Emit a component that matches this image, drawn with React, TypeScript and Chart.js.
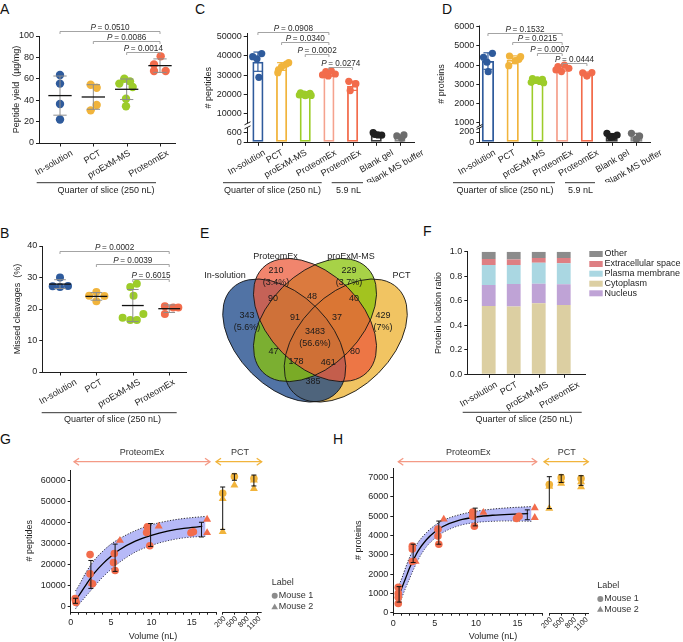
import React, { useEffect, useRef } from 'react';
import { Chart, registerables, LinearScale } from 'chart.js';

Chart.register(...registerables);

// ---------- broken linear scale (piecewise mapping with a gap) ----------
class BrokenLinear extends LinearScale {
  static id = 'brokenLinear';
  _geom() {
    const b: any = (this as any).options.brk;
    const horiz = this.isHorizontal();
    return { b, start: horiz ? this.left : this.bottom, len: horiz ? this.width : this.height, dir: horiz ? 1 : -1 };
  }
  getPixelForValue(value: number) {
    if (value === null || value === undefined || isNaN(value)) return NaN;
    const { b, start, len, dir } = this._geom();
    const hiLen = len - b.lowPx - b.gapPx;
    let d;
    if (value <= b.lowMax) d = ((value - this.min) / (b.lowMax - this.min)) * b.lowPx;
    else if (value >= b.highMin) d = b.lowPx + b.gapPx + ((value - b.highMin) / (this.max - b.highMin)) * hiLen;
    else d = b.lowPx + ((value - b.lowMax) / (b.highMin - b.lowMax)) * b.gapPx;
    return start + dir * d;
  }
  getValueForPixel(pixel: number) {
    const { b, start, len, dir } = this._geom();
    const d = (pixel - start) * dir;
    const hiLen = len - b.lowPx - b.gapPx;
    if (d <= b.lowPx) return this.min + (d / b.lowPx) * (b.lowMax - this.min);
    if (d >= b.lowPx + b.gapPx) return b.highMin + ((d - b.lowPx - b.gapPx) / hiLen) * (this.max - b.highMin);
    return b.lowMax + ((d - b.lowPx) / b.gapPx) * (b.highMin - b.lowMax);
  }
}
Chart.register(BrokenLinear as any);

// ---------- style ----------
const FF = "'Liberation Sans', Arial, Helvetica, sans-serif";
const FS = 9;
const LH = FS * 1.2;
const INK = '#1e1e1e';
const GREYLINE = '#9a9a9a';
const BLUE = '#2f5b9c';
const YELLOW = '#f1b43c';
const GREEN = '#9dcc29';
const SALMON = '#f26c4c';
const SALMON_LIGHT = '#f5a28e';
Chart.defaults.font.family = FF;
Chart.defaults.font.size = FS;
Chart.defaults.color = INK;

// ---------- data ----------
const CATS4 = ['In-solution', 'PCT', 'proExM-MS', 'ProteomEx'];
const CATS7 = ['In-solution', 'PCT', 'proExM-MS', 'ProteomEx', 'ProteomEx', 'Blank gel', 'Blank MS buffer'];
const COLORS4 = [BLUE, YELLOW, GREEN, SALMON];

// A: peptide yield
const A_YIELD = [
  [63.5, 55.5, 36.4, 22.0],
  [54.5, 51.7, 35.5, 30.5],
  [60.0, 57.6, 55.5, 52.3, 41.4, 34.3],
  [81.0, 73.5, 67.3, 67.3],
];
const A_JITTER = [
  [0, 0, 0, 0],
  [-0.08, 0.1, 0.1, -0.08],
  [-0.07, 0.1, -0.22, 0.18, -0.02, -0.02],
  [0.02, -0.18, -0.18, 0.17],
];
const A_MEAN = [44.3, 43.0, 50.2, 72.3];
const A_SD = [18.3, 11.5, 9.6, 6.3];
const A_YTICKS = [0, 20, 40, 60, 80, 100];
const A_PAIRS = [[0, 3], [1, 3], [2, 3]];
const A_PLEVEL = [105, 95.6, 85.3];
const A_PVALUES = ['0.0510', '0.0086', '0.0014'];

// B: missed cleavages
const B_MISSED = [
  [30.0, 27.2, 27.0, 27.3],
  [25.4, 24.2, 24.1, 22.5],
  [28.0, 27.0, 24.2, 18.4, 17.2, 16.5, 16.5],
  [20.9, 20.5, 20.5, 18.4],
];
const B_JITTER = [
  [0, -0.2, 0, 0.22],
  [0, -0.2, 0.22, 0],
  [0.11, -0.07, 0.02, 0.29, -0.28, -0.07, 0.11],
  [-0.12, 0.11, 0.25, -0.12],
];
const B_MEAN = [27.9, 24.0, 21.1, 20.1];
const B_SD = [1.4, 1.2, 5.1, 1.2];
const B_YTICKS = [0, 10, 20, 30, 40];
const B_PAIRS = [[0, 3], [1, 3], [2, 3]];
const B_PLEVEL = [38.5, 34.3, 29.4];
const B_PVALUES = ['0.0002', '0.0039', '0.6015'];

// C: # peptides
const C_PEPTIDES = [
  [39600, 41200, 38500, 28900],
  [36500, 35800, 34400, 32700, 31300],
  [20800, 20500, 20200, 19900, 19700, 19500, 19300],
  [31800, 32300, 30600, 29600, 30100],
  [26800, 25600, 22000],
  [576, 440, 430, 480],
  [380, 440, 250],
];
const C_JITTER = [
  [-0.22, 0.16, -0.04, 0.04],
  [0.3, 0.2, 0.0, -0.13, -0.16],
  [-0.2, 0.2, -0.05, 0.1, -0.25, 0.25, 0.0],
  [-0.13, 0.1, 0.27, -0.03, -0.27],
  [-0.16, 0.14, -0.1],
  [-0.13, 0.07, 0.23, -0.07],
  [-0.13, 0.17, 0.07],
];
const C_MEAN = [37000, 34500, 19900, 30450, 24500, 480, 340];
const C_SD = [5000, 2000, 550, 1000, 2400, 70, 90];
const C_YTICKS = [0, 600, 10000, 20000, 30000, 40000, 50000];
const C_PAIRS = [[0, 3], [1, 3], [2, 3], [3, 4]];
const C_PLEVEL = [52270, 47080, 41000, 34400];
const C_PVALUES = ['0.0908', '0.0340', '0.0002', '0.0274'];

// D: # proteins
const D_PROTEINS = [
  [4406, 4614, 4150, 3656],
  [4474, 4300, 4230, 4437, 3969],
  [3300, 3260, 3200, 3150, 3100, 3080, 3230],
  [3920, 4000, 3830, 3660, 3750],
  [3600, 3610, 3430],
  [175, 110, 142, 97],
  [175, 122, 60],
];
const D_JITTER = [
  [-0.18, 0.18, -0.04, 0.01],
  [-0.13, 0.25, 0.1, 0.32, -0.16],
  [-0.2, 0.2, -0.05, 0.1, -0.25, 0.25, 0.0],
  [-0.17, 0.09, 0.27, -0.03, -0.25],
  [-0.17, 0.2, 0.0],
  [-0.19, 0.08, 0.22, -0.05],
  [-0.2, 0.13, 0.0],
];
const D_MEAN = [4210, 4280, 3190, 3830, 3540, 135, 120];
const D_SD = [430, 200, 80, 140, 100, 35, 55];
const D_YTICKS = [0, 200, 1000, 2000, 3000, 4000, 5000, 6000];
const D_PAIRS = [[0, 3], [1, 3], [2, 3], [3, 4]];
const D_PLEVEL = [5687, 5187, 4614, 4125];
const D_PVALUES = ['0.1532', '0.0215', '0.0007', '0.0444'];

const BAR_COLORS7 = [BLUE, YELLOW, GREEN, SALMON_LIGHT, SALMON, '#3a3a3a', '#8a8a8a'];
const DOT_COLORS7 = [BLUE, YELLOW, GREEN, SALMON, SALMON, '#1f1f1f', '#6d6d6d'];

// E: Venn
const VENN_SETS = ['In-solution', 'ProteomEx', 'proExM-MS', 'PCT'];
const VENN_COUNTS = [343, 210, 229, 429, 90, 48, 40, 91, 37, 3483, 47, 80, 178, 461, 385];
const VENN_PCT: Record<number, string> = { 0: '(5.6%)', 1: '(3.4%)', 2: '(3.7%)', 3: '(7%)', 9: '(56.6%)' };
const VENN_FILL = ['rgba(20,66,134,0.74)', 'rgba(236,92,60,0.75)', 'rgba(138,195,10,0.75)', 'rgba(236,176,45,0.75)'];

// F: protein location ratio
const F_SERIES = ['Cytoplasm', 'Nucleus', 'Plasma membrane', 'Extracellular space', 'Other'];
const F_VALUES = [
  [0.557, 0.552, 0.579, 0.565],
  [0.171, 0.184, 0.160, 0.169],
  [0.163, 0.155, 0.171, 0.171],
  [0.049, 0.046, 0.038, 0.043],
  [0.060, 0.063, 0.052, 0.052],
];
const F_COLORS = ['#dccfa2', '#bfa3d6', '#aad7e2', '#de7f83', '#8c8c8c'];
const F_LEGEND_ORDER = [4, 3, 2, 0, 1];
const F_YTICKS = [0, 0.2, 0.4, 0.6, 0.8, 1.0];

// G: # peptides vs volume
const G_PE_M1 = { x: [0.55, 0.6, 0.65, 2.4, 2.4, 2.7, 5.4, 5.3, 5.5, 9.5, 9.4, 9.8, 14.9, 15.2], y: [3900, 2800, 2000, 24800, 15600, 10900, 25300, 21000, 17200, 38000, 35300, 29000, 35200, 35700] };
const G_PE_M2 = { x: [0.7, 2.6, 6.1, 10.9, 16.9, 16.9], y: [3000, 11200, 31500, 38300, 41600, 35200] };
const G_PCT_M1 = { x: [200, 500, 1000], y: [54000, 62000, 61000] };
const G_PCT_M2 = { x: [200, 200, 500, 1000, 1000], y: [51400, 35700, 57900, 60300, 56200] };
const G_FIT_X = [0.6, 1, 2, 3, 4, 5, 6, 8, 10, 12, 14, 16.3];
const G_FIT_Y = [3000, 5200, 11000, 16300, 20500, 24000, 27000, 31200, 34000, 36000, 37300, 38200];
const G_BAND_X = [0.6, 1, 2, 3, 4, 5, 6, 8, 10, 12, 14, 16.7];
const G_BAND_HI = [7500, 10000, 17000, 22500, 26500, 29800, 32300, 36200, 39000, 40800, 42000, 43000];
const G_BAND_LO = [-1000, 1000, 5500, 10000, 14200, 17800, 21000, 26000, 29200, 31400, 32800, 33600];
const G_ERR_X = [0.6, 2.5, 5.5, 9.9, 16.2, 200, 500, 1000];
const G_ERR_LO = [1600, 8700, 16800, 28700, 33200, 36800, 60200, 57500];
const G_ERR_HI = [4000, 22000, 29800, 39600, 40200, 57000, 63300, 62700];
const G_YTICKS = [0, 10000, 20000, 30000, 40000, 50000, 60000];

// H: # proteins vs volume
const H_PE_M1 = { x: [0.6, 0.6, 0.6, 0.6, 2.3, 2.3, 2.3, 5.4, 5.4, 5.5, 9.6, 9.6, 9.8, 14.9, 15.2], y: [1320, 1000, 800, 480, 3450, 3300, 2650, 4330, 3970, 3550, 5220, 5000, 4480, 4880, 5000] };
const H_PE_M2 = { x: [2.7, 6.1, 10.9, 17.1, 17.1], y: [2650, 4840, 5190, 5430, 4930] };
const H_PCT_M1 = { x: [200, 500, 1000], y: [6640, 7000, 6950] };
const H_PCT_M2 = { x: [200, 200, 500, 500, 1000, 1000], y: [6550, 5400, 6860, 6700, 6780, 6520] };
const H_FIT_X = [0.7, 1, 1.5, 2, 2.5, 3, 4, 5, 6, 8, 10, 12, 14, 16.3];
const H_FIT_Y = [900, 1250, 1800, 2350, 2800, 3200, 3780, 4180, 4470, 4800, 4960, 5050, 5100, 5130];
const H_BAND_X = [0.7, 1, 1.5, 2, 2.5, 3, 4, 5, 6, 8, 10, 12, 14, 16.7];
const H_BAND_HI = [1450, 1750, 2350, 2900, 3300, 3650, 4150, 4520, 4780, 5080, 5260, 5370, 5440, 5500];
const H_BAND_LO = [350, 750, 1300, 1800, 2300, 2750, 3420, 3850, 4160, 4520, 4680, 4740, 4760, 4740];
const H_ERR_X = [0.7, 2.4, 5.5, 9.9, 16.2, 200, 500, 1000];
const H_ERR_LO = [550, 2600, 3550, 4500, 4820, 5400, 6750, 6600];
const H_ERR_HI = [1350, 3550, 4750, 5420, 5330, 7050, 7150, 7100];
const H_YTICKS = [0, 1000, 2000, 3000, 4000, 5000, 6000, 7000];

const VOL_LOW_LABELS = [0, 5, 10, 15];
const VOL_HIGH_LABELS = [200, 500, 800, 1100];

// ---------- layout (page coordinates) ----------
const BOX_A = { cl: 0, ct: 0, cw: 215, ch: 200, x0: 39, y0: 36, x1: 175, y1: 143, yW: 30, xH: 40, tx: 17 };
const BOX_B = { cl: 0, ct: 225, cw: 215, ch: 200, x0: 42.3, y0: 246, x1: 186.7, y1: 372, yW: 30, xH: 40, tx: 17 };
const BOX_C = { cl: 200, ct: 0, cw: 230, ch: 200, x0: 246.7, y0: 33, x1: 420, y1: 142.3, yW: 44, xH: 40, tx: 208 };
const BOX_D = { cl: 430, ct: 0, cw: 253, ch: 200, x0: 479.3, y0: 25.5, x1: 650, y1: 142.3, yW: 44, xH: 40, tx: 442 };
const BOX_E = { cl: 200, ct: 225, cw: 230, ch: 215, x0: 212.5, y0: 231.9, x1: 417.5, y1: 436.9, yW: 0, xH: 0, tx: 0 };
const BOX_F = { cl: 425, ct: 225, cw: 258, ch: 200, x0: 467.3, y0: 251.7, x1: 585, y1: 374.3, yW: 36, xH: 40, tx: 438.3 };
const BOX_G = { cl: 0, ct: 440, cw: 340, ch: 202, x0: 70.7, y0: 470, x1: 261.7, y1: 611.7, yW: 50, xH: 24, tx: 30 };
const BOX_H = { cl: 340, ct: 440, cw: 343, ch: 202, x0: 393.3, y0: 468, x1: 589, y1: 612.7, yW: 45, xH: 24, tx: 358.3 };

// horizontal shift (px) of each rotated category label's end from its tick
const A_LABEL_SHIFT = [12, 7, 3, 8];
const B_LABEL_SHIFT = [16, 5, 7, 5];
const C_LABEL_SHIFT = [7, 1, 1, 7, 8, 17, 24];
const D_LABEL_SHIFT = [7, 2, 7, 10, 11, 17, 25];
const F_LABEL_SHIFT = [8, 3, 9, 15];

const padFor = (b: any) => ({ left: b.x0 - b.cl - b.yW, top: b.y0 - b.ct, right: b.cl + b.cw - b.x1, bottom: b.ct + b.ch - b.y1 - b.xH });
const titlePad = (b: any) => Math.max(0, b.tx - (b.x0 - b.yW) - LH / 2);

// ---------- drawing helpers ----------
function txt(ctx: any, s: string, x: number, y: number, o: any = {}) {
  ctx.save();
  ctx.font = `${o.italic ? 'italic ' : ''}${o.size || FS}px ${FF}`;
  ctx.fillStyle = o.color || INK;
  ctx.textAlign = o.align || 'center';
  ctx.textBaseline = o.baseline || 'middle';
  if (o.rot) { ctx.translate(x, y); ctx.rotate(o.rot); ctx.fillText(s, 0, 0); } else ctx.fillText(s, x, y);
  ctx.restore();
}
function seg(ctx: any, pts: number[][], color: string, w: number, dash?: number[]) {
  ctx.save();
  ctx.strokeStyle = color; ctx.lineWidth = w; ctx.setLineDash(dash || []);
  ctx.beginPath();
  pts.forEach(([x, y], i) => (i ? ctx.lineTo(x, y) : ctx.moveTo(x, y)));
  ctx.stroke();
  ctx.restore();
}
function pLabel(ctx: any, val: string, cx: number, baseY: number) {
  const size = 8.2;
  ctx.save();
  ctx.font = `italic ${size}px ${FF}`;
  const w1 = ctx.measureText('P').width;
  ctx.font = `${size}px ${FF}`;
  const rest = '\u2009= ' + val;
  const w2 = ctx.measureText(rest).width;
  const x = cx - (w1 + w2) / 2;
  ctx.fillStyle = '#2a2a2a'; ctx.textAlign = 'left'; ctx.textBaseline = 'alphabetic';
  ctx.font = `italic ${size}px ${FF}`; ctx.fillText('P', x, baseY);
  ctx.font = `${size}px ${FF}`; ctx.fillText(rest, x + w1, baseY);
  ctx.restore();
}
function drawBrackets(ctx: any, chart: any, pairs: number[][], levels: number[], pvals: string[]) {
  const x = chart.scales.x, y = chart.scales.y;
  pairs.forEach(([a, b], k) => {
    const xa = x.getPixelForValue(a), xb = x.getPixelForValue(b), yy = Math.round(y.getPixelForValue(levels[k])) + 0.5;
    seg(ctx, [[xa, yy + 2.5], [xa, yy], [xb, yy], [xb, yy + 2.5]], GREYLINE, 0.9);
    pLabel(ctx, pvals[k], (xa + xb) / 2, yy - 2);
  });
}
function drawFooters(ctx: any, box: any, foot: any[]) {
  foot.forEach((f) => {
    seg(ctx, [[f.x1 - box.cl, f.y - box.ct], [f.x2 - box.cl, f.y - box.ct]], INK, 0.9);
    txt(ctx, f.label, f.tx - box.cl, f.ty - box.ct);
  });
}
function drawCatTicks(ctx: any, chart: any, n: number) {
  const x = chart.scales.x, ca = chart.chartArea;
  for (let i = 0; i < n; i++) {
    const px = Math.round(x.getPixelForValue(i)) + 0.5;
    seg(ctx, [[px, ca.bottom], [px, ca.bottom + 3.5]], INK, 1);
  }
}
const annot = (box: any, draw: (chart: any, ctx: any) => void) => ({
  id: 'annot',
  afterDraw(chart: any) {
    const ctx = chart.ctx;
    ctx.save();
    draw(chart, ctx);
    ctx.restore();
  },
});

// ---------- axis builders ----------
function catAxis(cats: string[], min: number, max: number, box: any, shifts: number[], rot: number) {
  const unit = (box.x1 - box.x0) / (max - min);
  return {
    type: 'linear', min, max, offset: false,
    afterBuildTicks: (sc: any) => { sc.ticks = cats.map((_, i) => ({ value: i + shifts[i] / unit })); },
    afterFit: (sc: any) => { sc.height = box.xH; },
    ticks: { callback: (_v: number, i: number) => cats[i] ?? '', minRotation: rot, maxRotation: rot, autoSkip: false, padding: 2, color: INK, font: { size: FS } },
    grid: { display: false, drawOnChartArea: false, drawTicks: true, tickLength: 3, offset: false },
    border: { display: true, color: INK, width: 1 },
  };
}
function valAxis(min: number, max: number, ticks: number[], title: string, box: any, fmt: (v: number) => string) {
  return {
    type: 'linear', min, max,
    afterBuildTicks: (sc: any) => { sc.ticks = ticks.map((v) => ({ value: v })); },
    afterFit: (sc: any) => { sc.width = box.yW; },
    ticks: { callback: fmt, padding: 2, color: INK, autoSkip: false, font: { size: FS } },
    grid: { display: true, drawOnChartArea: false, drawTicks: true, tickLength: 3, color: INK, lineWidth: 1 },
    border: { display: true, color: INK, width: 1 },
    title: { display: true, text: title, padding: { top: titlePad(box), bottom: 0 }, color: INK, font: { size: FS } },
  };
}
const baseOpts = (box: any) => ({
  animation: false, responsive: false, events: [],
  layout: { padding: padFor(box) },
  plugins: { legend: { display: false }, tooltip: { enabled: false } },
});

// ---------- A / B dot plots ----------
function dotChart(s: any) {
  return {
    type: 'scatter',
    data: {
      datasets: s.values.map((vals: number[], i: number) => ({
        data: vals.map((v, j) => ({ x: i + s.jitter[i][j], y: v })),
        backgroundColor: COLORS4[i], borderWidth: 0, pointRadius: s.r, pointHoverRadius: s.r,
      })),
    },
    options: {
      ...baseOpts(s.box),
      scales: {
        x: catAxis(CATS4, s.xMin, s.xMax, s.box, s.shifts, 30),
        y: valAxis(s.yMin, s.yMax, s.yTicks, s.yTitle, s.box, (v: number) => String(v)),
      },
    },
    plugins: [annot(s.box, (chart, ctx) => {
      const x = chart.scales.x, y = chart.scales.y;
      const unit = x.getPixelForValue(1) - x.getPixelForValue(0);
      drawCatTicks(ctx, chart, CATS4.length);
      s.mean.forEach((m: number, i: number) => {
        const cx = x.getPixelForValue(i);
        const t = y.getPixelForValue(m + s.sd[i]), bt = y.getPixelForValue(m - s.sd[i]), my = y.getPixelForValue(m);
        const cw = unit * s.capW, mw = unit * s.meanW;
        seg(ctx, [[cx, t], [cx, bt]], '#8d8d8d', 1);
        seg(ctx, [[cx - cw, t], [cx + cw, t]], '#8d8d8d', 1);
        seg(ctx, [[cx - cw, bt], [cx + cw, bt]], '#8d8d8d', 1);
        seg(ctx, [[cx - mw, my], [cx + mw, my]], '#111', 1.3);
      });
      drawBrackets(ctx, chart, s.pairs, s.levels, s.pvals);
      drawFooters(ctx, s.box, s.footers);
    })],
  };
}

// ---------- C / D bar plots ----------
function barChart(s: any) {
  const datasets: any[] = [
    {
      type: 'bar',
      data: s.means.map((m: number, i: number) => ({ x: i, y: m })),
      backgroundColor: 'rgba(255,255,255,0)',
      borderColor: BAR_COLORS7, borderWidth: 1.8, borderSkipped: false,
      barPercentage: 0.62, categoryPercentage: 1, order: 3,
    },
    ...s.values.map((vals: number[], i: number) => ({
      type: 'scatter',
      data: vals.map((v, j) => ({ x: i + s.jitter[i][j], y: v })),
      backgroundColor: DOT_COLORS7[i], borderWidth: 0, pointRadius: 3.6, pointHoverRadius: 3.6, order: 1,
    })),
  ];
  const yAx: any = valAxis(0, s.yMax, s.yTicks, s.yTitle, s.box, (v: number) => String(v));
  yAx.type = 'brokenLinear';
  yAx.brk = s.brk;
  yAx.border = { display: false };
  return {
    type: 'scatter',
    data: { datasets },
    options: {
      ...baseOpts(s.box),
      scales: { x: catAxis(CATS7, s.xMin, s.xMax, s.box, s.shifts, 30), y: yAx },
    },
    plugins: [annot(s.box, (chart, ctx) => {
      const x = chart.scales.x, y = chart.scales.y, ca = chart.chartArea;
      const b = s.brk;
      const ax = Math.round(ca.left) + 0.5;
      const lowTop = y.getPixelForValue(b.lowMax), hiBot = y.getPixelForValue(b.highMin);
      seg(ctx, [[ax, ca.bottom], [ax, lowTop]], INK, 1);
      seg(ctx, [[ax, hiBot], [ax, ca.top]], INK, 1);
      seg(ctx, [[ax - 3, lowTop + 1.5], [ax + 3, lowTop - 1.5]], INK, 1);
      seg(ctx, [[ax - 3, hiBot + 1.5], [ax + 3, hiBot - 1.5]], INK, 1);
      drawCatTicks(ctx, chart, CATS7.length);
      s.means.forEach((m: number, i: number) => {
        const cx = x.getPixelForValue(i);
        const t = y.getPixelForValue(m + s.sd[i]), bt = y.getPixelForValue(m - s.sd[i]);
        const c = DOT_COLORS7[i];
        seg(ctx, [[cx, t], [cx, bt]], c, 1.2);
        seg(ctx, [[cx - 4.5, t], [cx + 4.5, t]], c, 1.2);
        seg(ctx, [[cx - 4.5, bt], [cx + 4.5, bt]], c, 1.2);
      });
      drawBrackets(ctx, chart, s.pairs, s.levels, s.pvals);
      drawFooters(ctx, s.box, s.footers);
    })],
  };
}

// ---------- E venn ----------
const VENN_ELLIPSES = [
  { cx: 0.35, cy: 0.47, rot: 45 },
  { cx: 0.5, cy: 0.57, rot: 45 },
  { cx: 0.5, cy: 0.57, rot: -45 },
  { cx: 0.65, cy: 0.47, rot: -45 },
];
const VENN_AX = 0.36, VENN_BX = 0.225;
const VENN_DRAW_ORDER = [3, 0, 2, 1];
const VENN_SET_POS = [[0.061, 0.785], [0.307, 0.882], [0.676, 0.882], [0.922, 0.785]];
const VENN_POS = [
  [0.168, 0.592], [0.31, 0.812], [0.666, 0.812], [0.832, 0.592], [0.295, 0.673], [0.485, 0.687], [0.69, 0.673],
  [0.402, 0.583], [0.607, 0.583], [0.5, 0.513], [0.297, 0.416], [0.695, 0.416], [0.407, 0.367], [0.565, 0.364], [0.49, 0.27],
];
function vennChart() {
  return {
    type: 'scatter',
    data: { datasets: [] },
    options: {
      ...baseOpts(BOX_E),
      scales: { x: { type: 'linear', min: 0, max: 1, display: false }, y: { type: 'linear', min: 0, max: 1, display: false } },
    },
    plugins: [annot(BOX_E, (chart, ctx) => {
      const x = chart.scales.x, y = chart.scales.y;
      const ux = x.getPixelForValue(1) - x.getPixelForValue(0);
      const uy = y.getPixelForValue(0) - y.getPixelForValue(1);
      const path = (e: any) => {
        ctx.beginPath();
        ctx.ellipse(x.getPixelForValue(e.cx), y.getPixelForValue(e.cy), VENN_AX * ux, VENN_BX * uy, (e.rot * Math.PI) / 180, 0, Math.PI * 2);
      };
      VENN_DRAW_ORDER.forEach((k) => { path(VENN_ELLIPSES[k]); ctx.fillStyle = VENN_FILL[k]; ctx.fill(); });
      VENN_ELLIPSES.forEach((e) => { path(e); ctx.strokeStyle = '#151515'; ctx.lineWidth = 0.9; ctx.stroke(); });
      VENN_SETS.forEach((n, k) => txt(ctx, n, x.getPixelForValue(VENN_SET_POS[k][0]), y.getPixelForValue(VENN_SET_POS[k][1])));
      VENN_COUNTS.forEach((c, k) => {
        const px = x.getPixelForValue(VENN_POS[k][0]), py = y.getPixelForValue(VENN_POS[k][1]);
        txt(ctx, String(c), px, py, { color: '#1a1a1a' });
        if (VENN_PCT[k]) txt(ctx, VENN_PCT[k], px, py + 12, { color: '#1a1a1a' });
      });
    })],
  };
}

// ---------- F stacked bars ----------
function stackChart() {
  const xAx: any = catAxis(CATS4, -0.856, 3.85, BOX_F, F_LABEL_SHIFT, 30);
  xAx.stacked = true;
  const yAx: any = valAxis(0, 1, F_YTICKS, 'Protein location ratio', BOX_F, (v: number) => v.toFixed(1));
  yAx.stacked = true;
  return {
    type: 'bar',
    data: {
      datasets: F_SERIES.map((name, k) => ({
        label: name,
        data: F_VALUES[k].map((v, i) => ({ x: i, y: v })),
        backgroundColor: F_COLORS[k], borderWidth: 0, barPercentage: 0.69, categoryPercentage: 1, stack: 's',
      })),
    },
    options: { ...baseOpts(BOX_F), scales: { x: xAx, y: yAx } },
    plugins: [annot(BOX_F, (chart, ctx) => {
      drawCatTicks(ctx, chart, CATS4.length);
      const ys = [254, 264, 273.7, 283.7, 293.3];
      F_LEGEND_ORDER.forEach((k, r) => {
        const yy = ys[r] - BOX_F.ct;
        ctx.fillStyle = F_COLORS[k];
        ctx.fillRect(589.3 - BOX_F.cl, yy - 3, 13.4, 6);
        txt(ctx, F_SERIES[k], 604.5 - BOX_F.cl, yy, { align: 'left' });
      });
      drawFooters(ctx, BOX_F, [{ x1: 462.7, x2: 581.7, y: 412.3, label: 'Quarter of slice (250 nL)', tx: 524, ty: 419.7 }]);
    })],
  };
}

// ---------- G / H volume curves ----------
const pts = (o: any) => o.x.map((x: number, i: number) => ({ x, y: o.y[i] }));
const BAND = 'rgba(110,115,240,0.5)';
function curveChart(s: any) {
  const b = s.box;
  const xticks = [...Array.from({ length: 19 }, (_, i) => i), ...VOL_HIGH_LABELS];
  const line = (xs: number[], ys: number[], extra: any) => ({
    type: 'line', data: xs.map((x, i) => ({ x, y: ys[i] })), pointRadius: 0, cubicInterpolationMode: 'monotone', fill: false, ...extra,
  });
  const sc = (o: any, style: string, color: string, r: number) => ({
    type: 'scatter', data: pts(o), pointStyle: style, backgroundColor: color, borderColor: color, borderWidth: 0, pointRadius: r, pointHoverRadius: r, order: 0,
  });
  const yAx: any = valAxis(s.yMin, s.yMax, s.yTicks, s.yTitle, b, (v: number) => String(v));
  return {
    type: 'scatter',
    data: {
      datasets: [
        line(s.bandX, s.bandHi, { borderColor: '#111', borderWidth: 0.9, borderDash: [1.2, 1.6], fill: '+1', backgroundColor: BAND, order: 3 }),
        line(s.bandX, s.bandLo, { borderColor: '#111', borderWidth: 0.9, borderDash: [1.2, 1.6], order: 3 }),
        line(s.fitX, s.fitY, { borderColor: '#000', borderWidth: 1.3, order: 2 }),
        sc(s.peM1, 'circle', SALMON, 3.8),
        sc(s.peM2, 'triangle', SALMON, 4.6),
        sc(s.pctM1, 'circle', YELLOW, 3.8),
        sc(s.pctM2, 'triangle', YELLOW, 4.6),
      ],
    },
    options: {
      ...baseOpts(b),
      scales: {
        x: {
          type: 'brokenLinear', min: 0, max: 1200, brk: s.brk,
          afterBuildTicks: (scale: any) => { scale.ticks = xticks.map((v) => ({ value: v })); },
          afterFit: (scale: any) => { scale.height = b.xH; },
          ticks: { callback: (v: number) => (VOL_LOW_LABELS.includes(v) ? String(v) : ''), minRotation: 0, maxRotation: 0, autoSkip: false, padding: 2, color: INK },
          grid: { display: true, drawOnChartArea: false, drawTicks: true, tickLength: 3, color: INK, lineWidth: 1 },
          border: { display: false },
        },
        y: yAx,
      },
    },
    plugins: [annot(b, (chart, ctx) => {
      const x = chart.scales.x, y = chart.scales.y, ca = chart.chartArea;
      const ay = Math.round(ca.bottom) + 0.5;
      seg(ctx, [[x.getPixelForValue(0), ay], [x.getPixelForValue(s.brk.lowMax), ay]], INK, 1);
      seg(ctx, [[x.getPixelForValue(s.brk.highMin), ay], [x.getPixelForValue(1200), ay]], INK, 1);
      VOL_HIGH_LABELS.forEach((v) => txt(ctx, String(v), x.getPixelForValue(v) + 2, ay + 5, { align: 'right', size: 7.5, rot: -Math.PI / 4 }));
      s.errX.forEach((ex: number, i: number) => {
        const cx = x.getPixelForValue(ex), t = y.getPixelForValue(s.errHi[i]), bt = y.getPixelForValue(s.errLo[i]);
        seg(ctx, [[cx, t], [cx, bt]], '#111', 1);
        seg(ctx, [[cx - 2.5, t], [cx + 2.5, t]], '#111', 1);
        seg(ctx, [[cx - 2.5, bt], [cx + 2.5, bt]], '#111', 1);
      });
      const arrow = (x1: number, x2: number, yy: number, color: string, label: string, lx: number) => {
        const X1 = x1 - b.cl, X2 = x2 - b.cl, Y = yy - b.ct;
        seg(ctx, [[X1, Y], [X2, Y]], color, 1.3);
        seg(ctx, [[X1 + 5, Y - 3.5], [X1, Y], [X1 + 5, Y + 3.5]], color, 1.3);
        seg(ctx, [[X2 - 5, Y - 3.5], [X2, Y], [X2 - 5, Y + 3.5]], color, 1.3);
        txt(ctx, label, lx - b.cl, Y - 9, { color: '#333' });
      };
      arrow(s.arPE[0], s.arPE[1], 461.7, '#f49a86', 'ProteomEx', s.arPE[2]);
      arrow(s.arPCT[0], s.arPCT[1], 461.7, YELLOW, 'PCT', s.arPCT[2]);
      const L = s.legend;
      txt(ctx, 'Label', L[0] - b.cl, L[1] - b.ct, { align: 'left', color: '#333' });
      ctx.fillStyle = '#8c8c8c';
      ctx.beginPath(); ctx.arc(L[0] + 3 - b.cl, L[2] - b.ct, 3, 0, Math.PI * 2); ctx.fill();
      ctx.beginPath();
      ctx.moveTo(L[0] + 3 - b.cl, L[3] - 3.3 - b.ct); ctx.lineTo(L[0] + 6.3 - b.cl, L[3] + 2.5 - b.ct); ctx.lineTo(L[0] - 0.3 - b.cl, L[3] + 2.5 - b.ct); ctx.closePath(); ctx.fill();
      txt(ctx, 'Mouse 1', L[0] + 7 - b.cl, L[2] - b.ct, { align: 'left', color: '#333' });
      txt(ctx, 'Mouse 2', L[0] + 7 - b.cl, L[3] - b.ct, { align: 'left', color: '#333' });
      txt(ctx, 'Volume (nL)', s.volX - b.cl, 636.7 - b.ct);
    })],
  };
}

// ---------- chart makers ----------
const makeA = () => dotChart({
  box: BOX_A, values: A_YIELD, jitter: A_JITTER, mean: A_MEAN, sd: A_SD, yMin: 0, yMax: 100, yTicks: A_YTICKS,
  yTitle: 'Peptide yield  (\u00b5g/mg)', xMin: -0.63, xMax: 3.45, pairs: A_PAIRS, levels: A_PLEVEL, pvals: A_PVALUES,
  r: 4.2, meanW: 0.35, capW: 0.2, shifts: A_LABEL_SHIFT,
  footers: [{ x1: 36.7, x2: 156, y: 182.7, label: 'Quarter of slice (250 nL)', tx: 106, ty: 190.5 }],
});
const makeB = () => dotChart({
  box: BOX_B, values: B_MISSED, jitter: B_JITTER, mean: B_MEAN, sd: B_SD, yMin: 0, yMax: 40, yTicks: B_YTICKS,
  yTitle: 'Missed cleavages  (%)', xMin: -0.486, xMax: 3.48, pairs: B_PAIRS, levels: B_PLEVEL, pvals: B_PVALUES,
  r: 4.0, meanW: 0.3, capW: 0.16, shifts: B_LABEL_SHIFT,
  footers: [{ x1: 41.7, x2: 176.7, y: 412.7, label: 'Quarter of slice (250 nL)', tx: 112.5, ty: 419.5 }],
});
const makeC = () => barChart({
  box: BOX_C, values: C_PEPTIDES, jitter: C_JITTER, means: C_MEAN, sd: C_SD, yMax: 51900, yTicks: C_YTICKS,
  brk: { lowMax: 900, highMin: 5000, lowPx: 15, gapPx: 4 }, yTitle: '# peptides', xMin: -0.474, xMax: 6.61,
  pairs: C_PAIRS, levels: C_PLEVEL, pvals: C_PVALUES, shifts: C_LABEL_SHIFT,
  footers: [
    { x1: 223, x2: 321.7, y: 182.7, label: 'Quarter of slice (250 nL)', tx: 272.5, ty: 190.5 },
    { x1: 331.7, x2: 363, y: 182.7, label: '5.9 nL', tx: 348.5, ty: 190.5 },
  ],
});
const makeD = () => barChart({
  box: BOX_D, values: D_PROTEINS, jitter: D_JITTER, means: D_MEAN, sd: D_SD, yMax: 6062, yTicks: D_YTICKS,
  brk: { lowMax: 280, highMin: 833, lowPx: 14.4, gapPx: 2 }, yTitle: '# proteins', xMin: -0.35, xMax: 6.55,
  pairs: D_PAIRS, levels: D_PLEVEL, pvals: D_PVALUES, shifts: D_LABEL_SHIFT,
  footers: [
    { x1: 453, x2: 555, y: 182.7, label: 'Quarter of slice (250 nL)', tx: 505, ty: 190.5 },
    { x1: 565, x2: 595, y: 182.7, label: '5.9 nL', tx: 580.5, ty: 190.5 },
  ],
});
const makeG = () => curveChart({
  box: BOX_G, yMin: -2400, yMax: 65100, yTicks: G_YTICKS, yTitle: '# peptides',
  brk: { lowMax: 18, highMin: 200, lowPx: 145.3, gapPx: 6.7 },
  peM1: G_PE_M1, peM2: G_PE_M2, pctM1: G_PCT_M1, pctM2: G_PCT_M2,
  fitX: G_FIT_X, fitY: G_FIT_Y, bandX: G_BAND_X, bandHi: G_BAND_HI, bandLo: G_BAND_LO,
  errX: G_ERR_X, errLo: G_ERR_LO, errHi: G_ERR_HI,
  arPE: [74, 210, 142], arPCT: [216, 261.7, 240], legend: [271.7, 582.7, 595.7, 606.7], volX: 153,
});
const makeH = () => curveChart({
  box: BOX_H, yMin: 0, yMax: 7500, yTicks: H_YTICKS, yTitle: '# proteins',
  brk: { lowMax: 18, highMin: 200, lowPx: 148.9, gapPx: 7.1 },
  peM1: H_PE_M1, peM2: H_PE_M2, pctM1: H_PCT_M1, pctM2: H_PCT_M2,
  fitX: H_FIT_X, fitY: H_FIT_Y, bandX: H_BAND_X, bandHi: H_BAND_HI, bandLo: H_BAND_LO,
  errX: H_ERR_X, errLo: H_ERR_LO, errHi: H_ERR_HI,
  arPE: [398.3, 536.7, 468.3], arPCT: [544, 588.3, 566.7], legend: [597.3, 586, 599, 609.3], volX: 493,
});

function Panel({ box, make }: any) {
  const ref = useRef<HTMLCanvasElement>(null);
  useEffect(() => {
    const chart = new Chart(ref.current as HTMLCanvasElement, make() as any);
    return () => chart.destroy();
  }, []);
  return (
    <canvas ref={ref} width={box.cw} height={box.ch}
      style={{ position: 'absolute', left: box.cl, top: box.ct, width: box.cw, height: box.ch }} />
  );
}

const LETTERS: [string, number, number][] = [
  ['A', 0, 2], ['C', 195, 2], ['D', 442, 2], ['B', 0, 226], ['E', 200, 226], ['F', 423, 224], ['G', 0, 432], ['H', 333, 432],
];

export default function App() {
  return (
    <div style={{ position: 'absolute', left: 0, top: 0, width: 683, height: 642, background: '#fff', overflow: 'hidden' }}>
      {LETTERS.map(([l, x, y]) => (
        <div key={l} style={{ position: 'absolute', left: x, top: y, font: `14px ${FF}`, lineHeight: '14px', color: '#111' }}>{l}</div>
      ))}
      <Panel box={BOX_A} make={makeA} />
      <Panel box={BOX_C} make={makeC} />
      <Panel box={BOX_D} make={makeD} />
      <Panel box={BOX_B} make={makeB} />
      <Panel box={BOX_E} make={vennChart} />
      <Panel box={BOX_F} make={stackChart} />
      <Panel box={BOX_G} make={makeG} />
      <Panel box={BOX_H} make={makeH} />
    </div>
  );
}
